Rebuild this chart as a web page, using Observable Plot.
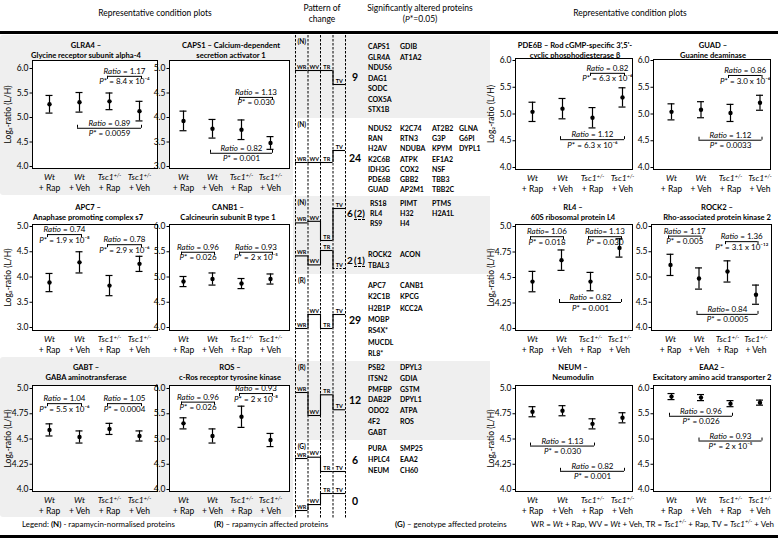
<!DOCTYPE html>
<html><head><meta charset="utf-8">
<script src="https://cdn.jsdelivr.net/npm/d3@7"></script>
<script src="https://cdn.jsdelivr.net/npm/@observablehq/plot@0.6"></script>
<style>
html,body{margin:0;padding:0;background:#fff;}
#root{position:relative;width:778px;height:540px;overflow:hidden;font-family:Lato,"Open Sans",sans-serif;color:#000;}
#root div{position:absolute;white-space:nowrap;}
.ttl{font-weight:bold;font-size:7.6px;line-height:10px;text-align:center;transform:translateX(-50%);}
.hdr{font-size:8.5px;line-height:11px;text-align:center;transform:translateX(-50%);}
.prot{font-weight:bold;font-size:7px;line-height:10px;}
.num{font-weight:bold;font-size:10.5px;line-height:12px;}
.leg{font-size:7.9px;line-height:11px;}
</style></head><body><div id="root"></div>
<script>
// ================= DATA =================
const genotypes = ["Wt","Wt","Tsc1","Tsc1"];
const treatments = ["+ Rap","+ Veh","+ Rap","+ Veh"];
const panelTitle1 = ["GLRA4 –","CAPS1 – Calcium-dependent","APC7 –","CANB1 –","GABT –","ROS –",
  "PDE6B – Rod cGMP-specific 3',5'-","GUAD –","RL4 –","ROCK2 –","NEUM –","EAA2 –"];
const panelTitle2 = ["Glycine receptor subunit alpha-4","secretion activator 1","Anaphase promoting complex s7",
  "Calcineurin subunit B type 1","GABA aminotransferase","c-Ros receptor tyrosine kinase",
  "cyclic phosphodiesterase β","Guanine deaminase","60S ribosomal protein L4","Rho-associated protein kinase 2",
  "Neumodulin","Excitatory amino acid transporter 2"];
const panelMeans = [
  [5.27,5.31,5.33,5.13],
  [3.93,3.77,3.75,3.48],
  [3.89,4.29,3.83,4.26],
  [4.91,4.96,4.87,4.96],
  [4.59,4.52,4.60,4.53],
  [5.31,5.06,5.44,4.98],
  [5.04,5.10,4.93,5.31],
  [5.04,5.08,5.02,5.21],
  [4.46,4.67,4.46,4.79],
  [5.24,4.97,5.11,4.65],
  [4.77,4.78,4.65,4.71],
  [5.84,5.82,5.70,5.72]
];
const panelErrors = [
  [0.18,0.20,0.17,0.20],
  [0.20,0.19,0.20,0.13],
  [0.18,0.21,0.20,0.15],
  [0.10,0.12,0.10,0.10],
  [0.06,0.06,0.055,0.05],
  [0.11,0.14,0.21,0.13],
  [0.18,0.19,0.19,0.18],
  [0.15,0.15,0.16,0.14],
  [0.10,0.10,0.09,0.09],
  [0.21,0.21,0.21,0.19],
  [0.05,0.05,0.05,0.05],
  [0.06,0.06,0.06,0.05]
];
const panelTicks = [
  [4,4.5,5,5.5,6],[3,3.5,4,4.5,5],[3,3.5,4,4.5,5],[4,4.5,5,5.5,6],[4,4.25,4.5,4.75,5],[4,4.5,5,5.5,6],
  [4,4.5,5,5.5,6],[4,4.5,5,5.5,6],[4,4.25,4.5,4.75,5],[4,4.5,5,5.5,6],[4,4.25,4.5,4.75,5],[4,4.5,5,5.5,6]
];
const bracketPanel = [0,0, 1,1, 2,2, 3,3, 4,4, 5,5, 6,6, 7,7, 8,8,8, 9,9,9, 10,10, 11,11];
const bracketFrom  = [2,1, 2,1, 0,2, 0,2, 0,2, 0,2, 2,1, 2,1, 0,2,1, 0,2,1, 0,1, 0,1];
const bracketTo    = [3,3, 3,3, 1,3, 1,3, 1,3, 1,3, 3,3, 3,3, 1,3,3, 1,3,3, 2,3, 2,3];
const bracketLevel = [5.84,4.78, 4.41,3.27, 4.84,4.64, 5.49,5.49, 4.85,4.85, 5.73,5.90,
  5.76,4.52, 5.72,4.51, 4.90,4.90,4.255, 5.81,5.70,4.26, 4.43,4.18, 5.45,4.96];
const bracketRatio = ["Ratio = 1.17","Ratio = 0.89","Ratio = 1.13","Ratio = 0.82","Ratio = 0.74","Ratio = 0.78",
  "Ratio = 0.96","Ratio = 0.93","Ratio = 1.04","Ratio = 1.05","Ratio = 0.96","Ratio = 0.93",
  "Ratio = 0.82","Ratio = 1.12","Ratio = 0.86","Ratio = 1.12","Ratio= 1.06","Ratio= 1.13","Ratio = 0.82",
  "Ratio = 1.17","Ratio = 1.36","Ratio= 0.84","Ratio = 1.13","Ratio = 0.82","Ratio = 0.96","Ratio = 0.93"];
const bracketP = ["P* = 8.4 x 10⁻⁴","P* = 0.0059","P* = 0.030","P* = 0.001","P* = 1.9 x 10⁻⁸","P* = 2.9 x 10⁻⁶",
  "P* = 0.026","P* = 2 x 10⁻⁵","P* = 5.5 x 10⁻⁶","P* = 0.0004","P* = 0.026","P* = 2 x 10⁻⁸",
  "P* = 6.3 x 10⁻⁶","P* = 6.3 x 10⁻⁶","P* = 3.0 x 10⁻⁶","P* = 0.0033","P* = 0.018","P* = 0.030","P* = 0.001",
  "P* = 0.005","P* = 3.1 x 10⁻¹²","P* = 0.0005","P* = 0.030","P* = 0.001","P* = 0.026","P* = 2 x 10⁻⁵"];

const lanes = ["WR","WV","TR","TV"];
const patternClass = ["(N)","(N)","(N)","","(R)","(R)","(G)",""];
const patternRanks = [[1,1,1,0],[0,0,0,1],[0.55,0.6,0,1],[0.7,0.2,1,0],[0,1,0,1],[1,0,0.9,0.25],[1,1.1,0,0],[0,0.35,1,1]];
const patternDashed = [[0,0,0,0],[0,0,0,0],[0,0,0,0],[0,0,0,1],[0,0,0,0],[0,0,0,0],[0,0,0,0],[0,0,0,0]];
const blockCounts = ["9","24","6","2","29","12","6","0"];
const blockExtra = ["","","(2)","(1)","","","",""];
const blockProteins = [
  [["CAPS1","GDIB"],["GLR4A","AT1A2"],["NDUS6"],["DAG1"],["SODC"],["COX5A"],["STX1B"]],
  [["NDUS2","K2C74","AT2B2","GLNA"],["RAN","RTN3","G3P","G6PI"],["H2AV","NDUBA","KPYM","DYPL1"],["K2C6B","ATPK","EF1A2"],["IDH3G","COX2","NSF"],["PDE6B","GBB2","TBB3"],["GUAD","AP2M1","TBB2C"]],
  [["RS18","PIMT","PTMS"],["RL4","H32","H2A1L"],["RS9","H4"]],
  [["ROCK2","ACON"],["TBAL3"]],
  [["APC7","CANB1"],["K2C1B","KPCG"],["H2B1P","KCC2A"],["MOBP"],["RS4X*"],["MUCDL"],["RL8*"]],
  [["PSB2","DPYL3"],["ITSN2","GDIA"],["PMFBP","GSTM"],["DAB2P","DPYL1"],["ODO2","ATPA"],["4F2","ROS"],["GABT"]],
  [["PURA","SMP25"],["HPLC4","EAA2"],["NEUM","CH60"]],
  []
];

// ================= LAYOUT =================
const FONT = "Lato, 'Open Sans', sans-serif";
const panelLayout = [
  {l:32,r:157,t:60,b:168,pt:68,pb:166,first:17,step:30,yl:true,tx:86,ty:40},
  {l:169,r:289,t:60,b:168,pt:68,pb:166,first:14,step:29,yl:false,tx:231,ty:40},
  {l:32,r:157,t:224,b:330,pt:226,pb:327,first:17,step:30,yl:true,tx:88,ty:202},
  {l:169,r:289,t:224,b:330,pt:226,pb:327,first:14,step:29,yl:false,tx:228,ty:202},
  {l:32,r:157,t:385,b:491,pt:388,pb:489,first:17,step:30,yl:true,tx:86,ty:362},
  {l:169,r:289,t:385,b:491,pt:388,pb:489,first:14,step:29,yl:false,tx:230,ty:362},
  {l:515,r:632,t:58,b:169,pt:60,pb:167,first:17,step:30,yl:true,tx:575,ty:40},
  {l:653,r:770,t:59,b:169,pt:60,pb:167,first:18,step:29.5,yl:false,tx:713,ty:40},
  {l:515,r:632,t:224,b:330,pt:226,pb:328,first:17,step:29,yl:true,tx:573,ty:202},
  {l:651,r:771,t:224,b:330,pt:226,pb:327,first:19,step:28.5,yl:false,tx:717,ty:202},
  {l:515,r:632,t:385,b:491,pt:388,pb:489,first:17,step:30,yl:true,tx:573,ty:362},
  {l:653,r:770,t:385,b:491,pt:388,pb:489,first:18,step:29.5,yl:false,tx:712,ty:362}
];
const blockTop = [35,118,196,243,274,361,440,488];
const blockBottom = [118,196,243,274,361,440,488,518];
const blockHi = [70,150,208,250,314,392,458,493];
const blockLo = [84,162,240,268,328,415,471,510];
const blockFill = ["#efefef","#ffffff","#efefef","#efefef","#ffffff","#efefef","#ffffff","#ffffff"];
const listFirst = [46,128,203,254,285,367,448,0];
const listStep = [10.5,10.2,10,11,11.3,10.8,11,0];
const numY = [77,158,213,260,320,400,460,501];
const listCols = [368,400,432,459];

const root = document.getElementById("root");
function addDiv(html, cls, left, top, extra) {
  const d = document.createElement("div");
  if (cls) d.className = cls;
  d.innerHTML = html;
  d.style.left = left + "px"; d.style.top = top + "px";
  if (extra) Object.assign(d.style, extra);
  root.appendChild(d);
  return d;
}
function place(svg, left, top) {
  svg.style.position = "absolute";
  svg.style.left = left + "px";
  svg.style.top = top + "px";
  root.appendChild(svg);
}
function esc(s){return s.replace(/&/g,"&amp;").replace(/</g,"&lt;");}
function richify(svg) {
  svg.querySelectorAll("text").forEach(t => {
    if (t.querySelector("tspan")) return;
    const s = t.textContent;
    if (s.startsWith("Ratio")) t.innerHTML = '<tspan font-style="italic">Ratio</tspan>' + esc(s.slice(5));
    else if (s.startsWith("P*")) t.innerHTML = '<tspan font-style="italic">P</tspan>' + esc(s.slice(1));
  });
  svg.querySelectorAll('g[aria-label="x-axis tick label"] text').forEach(t => {
    const ts = t.querySelectorAll("tspan");
    const first = ts.length ? ts[0] : null;
    if (!first) return;
    first.setAttribute("font-style", "italic");
    if (first.textContent === "Tsc1") first.innerHTML = 'Tsc1<tspan baseline-shift="super" font-size="5.5">+/-</tspan>';
  });
}

// ---------- backgrounds ----------
addDiv("", "", 0, 35, {width:"293px", height:"160px", background:"#efefef", borderRadius:"3px"});
addDiv("", "", 0, 357, {width:"293px", height:"160px", background:"#efefef", borderRadius:"3px"});
blockTop.forEach((t, b) => addDiv("", "", 293, t, {width:"197px", height:(blockBottom[b]-t)+"px", background: blockFill[b]}));

// ---------- headers ----------
addDiv("Representative condition plots", "hdr", 155, 8);
addDiv("Pattern of<br>change", "hdr", 322, 3);
addDiv("Significantly altered proteins<br>(<i>P</i>*=0.05)", "hdr", 420, 3);
addDiv("Representative condition plots", "hdr", 630, 8);
addDiv("", "", 0, 31, {width:"778px", height:"3px", background:"#000"});
addDiv("", "", 0, 535, {width:"778px", height:"3px", background:"#000"});

// ---------- panels ----------
function drawPanel(k) {
  const L = panelLayout[k];
  const mL = 34, mR = 6, mT = 4, mB = 28;
  const W = L.r - L.l, H = L.b - L.t;
  const ticks = panelTicks[k];
  const tmin = d3.min(ticks), tmax = d3.max(ticks);
  const upp = (tmax - tmin) / (L.pb - L.pt);
  const yTop = tmax + (L.pt - L.t) * upp;
  const yBot = tmin - (L.b - L.pb) * upp;
  const xDom = [-L.first / L.step, (W - L.first) / L.step];
  const data = panelMeans[k].map((m, i) => ({i, m, e: panelErrors[k][i]}));
  const brs = [];
  bracketPanel.forEach((p, j) => {
    if (p !== k) return;
    const f = bracketFrom[j], t = bracketTo[j];
    const dir = bracketLevel[j] > d3.max(panelMeans[k].slice(f, t + 1)) ? -1 : 1;
    brs.push({f, t, y: bracketLevel[j], r: bracketRatio[j], p: bracketP[j], dir});
  });
  const hook = 3 * upp, cap = 3.5 / L.step, ext = 2 / L.step;
  const fmt = d => (Math.round(d * 100) % 50 === 0) ? d.toFixed(1) : d.toFixed(2);
  const svg = Plot.plot({
    width: W + mL + mR, height: H + mT + mB,
    marginLeft: mL, marginRight: mR, marginTop: mT, marginBottom: mB,
    style: {fontFamily: FONT, fontSize: "8.5px", background: "transparent", overflow: "visible", color: "#000"},
    x: {domain: xDom},
    y: {domain: [yBot, yTop]},
    marks: [
      Plot.frame({fill: "white", stroke: "#000", strokeWidth: 1}),
      Plot.axisY({ticks, tickFormat: fmt, tickSize: 2.5, tickPadding: 1.5,
        label: L.yl ? "Log₂-ratio (L/H)" : null, labelAnchor: "center", labelOffset: 28, labelArrow: "none"}),
      Plot.axisX({ticks: [0,1,2,3], tickFormat: i => genotypes[i] + "\n" + treatments[i],
        tickSize: 0, tickPadding: 3, lineHeight: 1.35, label: null}),
      Plot.ruleX(data, {x: "i", y1: d => d.m - d.e, y2: d => d.m + d.e, strokeWidth: 1.2}),
      Plot.ruleY(data, {x1: d => d.i - cap, x2: d => d.i + cap, y: d => d.m - d.e, strokeWidth: 1.2}),
      Plot.ruleY(data, {x1: d => d.i - cap, x2: d => d.i + cap, y: d => d.m + d.e, strokeWidth: 1.2}),
      Plot.dot(data, {x: "i", y: "m", r: 2.2, fill: "#000", stroke: null}),
      Plot.ruleY(brs, {x1: d => d.f - ext, x2: d => d.t + ext, y: "y", strokeWidth: 1}),
      Plot.ruleX(brs, {x: d => d.f - ext, y1: "y", y2: d => d.y + d.dir * hook, strokeWidth: 1}),
      Plot.ruleX(brs, {x: d => d.t + ext, y1: "y", y2: d => d.y + d.dir * hook, strokeWidth: 1}),
      Plot.text(brs, {x: d => (d.f + d.t) / 2, y: "y", text: "r", dy: -5, fontSize: 8}),
      Plot.text(brs, {x: d => (d.f + d.t) / 2, y: "y", text: "p", dy: 5.5, fontSize: 8})
    ]
  });
  richify(svg);
  place(svg, L.l - mL, L.t - mT);
  addDiv(panelTitle1[k] + "<br>" + panelTitle2[k], "ttl", L.tx, L.ty);
}
panelLayout.forEach((_, k) => drawPanel(k));

// ---------- pattern of change ----------
(function drawPattern() {
  const segs = [], conns = [], labels = [];
  patternRanks.forEach((ranks, b) => {
    const py = ranks.map(r => blockLo[b] - r * (blockLo[b] - blockHi[b]));
    py.forEach((y, i) => segs.push({i, y, lane: lanes[i], dash: patternDashed[b][i]}));
    for (let i = 0; i < 3; i++) if (py[i] !== py[i + 1]) conns.push({x: i + 1, y1: py[i], y2: py[i + 1]});
    if (patternClass[b]) labels.push({y: blockTop[b], t: patternClass[b]});
  });
  const mL = 2, mR = 3, W = 50;
  const svg = Plot.plot({
    width: W + mL + mR, height: 540,
    marginLeft: mL, marginRight: mR, marginTop: 0, marginBottom: 0,
    x: {domain: [0, 4], axis: null},
    y: {domain: [540, 0], axis: null},
    style: {fontFamily: FONT, background: "transparent", overflow: "visible", color: "#000"},
    marks: [
      Plot.ruleX([0,1,2,3,4], {x: d => d, y1: () => 35, y2: () => 518, strokeDasharray: "2.5,1.5", strokeWidth: 1}),
      Plot.ruleY(segs.filter(d => !d.dash), {x1: d => d.i, x2: d => d.i + 1, y: "y", strokeWidth: 1.1}),
      Plot.ruleY(segs.filter(d => d.dash), {x1: d => d.i, x2: d => d.i + 1, y: "y", strokeWidth: 1.1, strokeDasharray: "2,1.5"}),
      Plot.ruleX(conns, {x: "x", y1: "y1", y2: "y2", strokeWidth: 1.1}),
      Plot.text(segs, {x: d => d.i + 0.5, y: "y", dy: -3.5, text: "lane", fontSize: 5.5, fontWeight: "bold"}),
      Plot.text(labels, {x: () => 0.5, y: "y", dy: 6.5, text: "t", fontSize: 6.5, fontWeight: "bold"})
    ]
  });
  place(svg, 293, 0);
})();

// ---------- counts and protein lists ----------
blockCounts.forEach((c, b) => {
  const extra = blockExtra[b] ? '&thinsp;<span style="border-bottom:1px dashed #000;font-size:9.5px">' + blockExtra[b] + '</span>' : "";
  addDiv(c + extra, "num", extra ? 347 : (c.length > 1 ? 349 : 352), numY[b] - 6, extra ? {fontSize: "10px"} : null);
  blockProteins[b].forEach((row, r) => {
    row.forEach((name, ci) => addDiv(name, "prot", listCols[ci] + (b === 2 && ci === 0 ? 2 : 0), listFirst[b] + r * listStep[b] - 5));
  });
});

// ---------- legend ----------
addDiv("Legend: <b>(N)</b> - rapamycin-normalised proteins", "leg", 22, 519);
addDiv("<b>(R)</b> – rapamycin affected proteins", "leg", 214, 519);
addDiv("<b>(G)</b> – genotype affected proteins", "leg", 395, 519);
addDiv("WR = <i>Wt</i> + Rap, WV = <i>Wt</i> + Veh, TR = <i>Tsc1<sup style='font-size:5.5px;line-height:0'>+/-</sup></i> + Rap, TV = <i>Tsc1<sup style='font-size:5.5px;line-height:0'>+/-</sup></i> + Veh", "leg", 531, 519);
</script></body></html>
